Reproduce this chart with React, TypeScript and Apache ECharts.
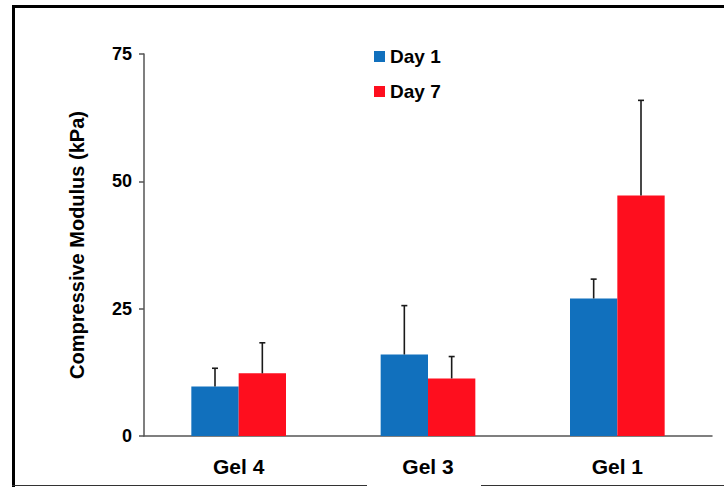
import React, { useEffect, useRef } from "react";
import * as echarts from "echarts";

const categories = ["Gel 4", "Gel 3", "Gel 1"];
const day1 = [9.7, 16.0, 27.0];
const day7 = [12.3, 11.3, 47.2];
const day1Err = [3.6, 9.6, 3.8];
const day7Err = [6.0, 4.3, 18.7];
const yTicks = [0, 25, 50, 75];

const FONT = "'Liberation Sans', Arial, sans-serif";
const BLUE = "#1170bd";
const RED = "#fe0e1e";

function errorSeries(name: string, values: number[], errs: number[], side: number) {
  return {
    type: "custom",
    name: name + " err",
    z: 5,
    data: values.map((v, i) => [i, v, v + errs[i]]),
    renderItem: (params: any, api: any) => {
      const idx = api.value(0);
      const base = api.coord([idx, api.value(1)]);
      const top = api.coord([idx, api.value(2)]);
      const bw = api.size([1, 0])[0] * 0.25;
      const x = base[0] + side * bw / 2;
      const style = { stroke: "#1a1a1a", lineWidth: 1.6 };
      return {
        type: "group",
        children: [
          { type: "line", shape: { x1: x, y1: base[1], x2: x, y2: top[1] }, style },
          { type: "line", shape: { x1: x - 3, y1: top[1], x2: x + 3, y2: top[1] }, style },
        ],
      };
    },
  };
}

export default function App() {
  const ref = useRef<HTMLDivElement>(null);
  useEffect(() => {
    if (!ref.current) return;
    const chart = echarts.init(ref.current, undefined, { renderer: "svg" });
    chart.setOption({
      animation: false,
      backgroundColor: "#ffffff",
      grid: { left: 144, right: 12, top: 54, bottom: 51, containLabel: false },
      legend: {
        orient: "vertical",
        left: 369,
        top: 41,
        itemWidth: 11,
        itemHeight: 11,
        itemGap: 14,
        icon: "rect",
        data: ["Day 1", "Day 7"],
        textStyle: { fontFamily: FONT, fontWeight: "bold", fontSize: 19, color: "#000", lineHeight: 21 },
      },
      xAxis: {
        type: "category",
        data: categories,
        axisLine: { lineStyle: { color: "#555555", width: 1.5 } },
        axisTick: { show: false },
        axisLabel: { fontFamily: FONT, fontWeight: "bold", fontSize: 21, color: "#000", margin: 20 },
      },
      yAxis: {
        type: "value",
        min: yTicks[0],
        max: yTicks[yTicks.length - 1],
        interval: 25,
        name: "Compressive Modulus (kPa)",
        nameLocation: "middle",
        nameRotate: 90,
        nameGap: 57,
        nameTextStyle: { fontFamily: FONT, fontWeight: "bold", fontSize: 20, color: "#000" },
        splitLine: { show: false },
        axisLine: { show: true, lineStyle: { color: "#555555", width: 1.5 } },
        axisTick: { show: true, inside: false, length: 5, lineStyle: { color: "#555555", width: 1.5 } },
        axisLabel: { fontFamily: FONT, fontWeight: "bold", fontSize: 18, color: "#000", margin: 12 },
      },
      series: [
        { type: "bar", name: "Day 1", data: day1, barWidth: "25%", barGap: "0%", itemStyle: { color: BLUE } },
        { type: "bar", name: "Day 7", data: day7, barWidth: "25%", barGap: "0%", itemStyle: { color: RED } },
        errorSeries("Day 1", day1, day1Err, -1),
        errorSeries("Day 7", day7, day7Err, 1),
      ],
      graphic: [
        { type: "rect", shape: { x: 12, y: 5, width: 712, height: 3 }, style: { fill: "#000" } },
        { type: "rect", shape: { x: 12, y: 5, width: 3, height: 482 }, style: { fill: "#000" } },
        { type: "line", shape: { x1: 12, y1: 485.5, x2: 367, y2: 485.5 }, style: { stroke: "#333", lineWidth: 1.2 } },
        { type: "line", shape: { x1: 481, y1: 485.5, x2: 724, y2: 485.5 }, style: { stroke: "#333", lineWidth: 1.2 } },
      ],
    });
    return () => chart.dispose();
  }, []);
  return <div ref={ref} style={{ width: 724, height: 487, position: "absolute", left: 0, top: 0 }} />;
}
